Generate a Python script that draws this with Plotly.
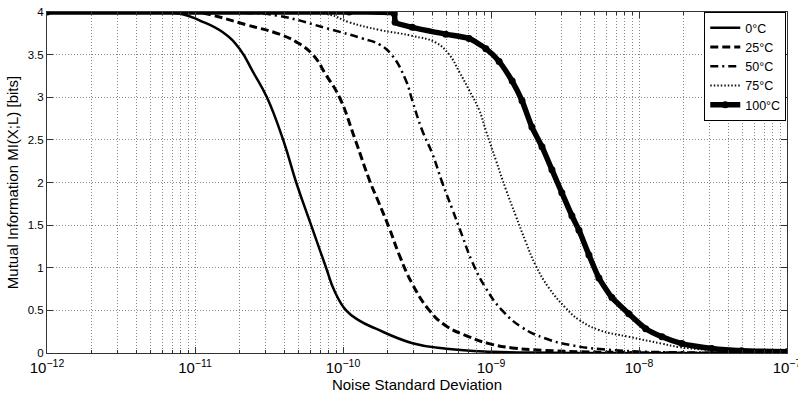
import plotly.graph_objects as go

# Mutual information vs. noise standard deviation, one series per temperature
noise_0c = [1e-12, 5.0e-12, 8.0e-12, 1.08e-11, 1.55e-11, 2.0e-11, 2.46e-11, 3.06e-11,
            3.96e-11, 4.83e-11, 6.09e-11, 7.69e-11, 8.75e-11, 1.05e-10, 1.29e-10,
            1.67e-10, 2.95e-10, 5.0e-10, 1.0e-9, 2.5e-9, 1e-7]
mi_0c = [4.0, 4.0, 3.98, 3.90, 3.76, 3.57, 3.30, 3.00,
         2.49, 2.00, 1.50, 1.00, 0.73, 0.50, 0.38,
         0.285, 0.115, 0.05, 0.015, 0.003, 0.0]

noise_25c = [1e-12, 1.0e-11, 1.26e-11, 2.22e-11, 3.72e-11, 4.83e-11, 6.25e-11, 7.69e-11,
             9.46e-11, 1.21e-10, 1.53e-10, 1.73e-10, 2.06e-10, 2.40e-10, 2.94e-10,
             3.83e-10, 4.95e-10, 7.11e-10, 9.7e-10, 1.39e-9, 2.35e-9, 5.4e-9, 1e-7]
mi_25c = [4.0, 4.0, 3.97, 3.85, 3.74, 3.65, 3.50, 3.26,
          3.00, 2.50, 2.00, 1.78, 1.46, 1.15, 0.81,
          0.50, 0.32, 0.19, 0.11, 0.06, 0.03, 0.01, 0.0]

noise_50c = [1e-12, 2.0e-11, 3.54e-11, 8.09e-11, 1.35e-10, 1.76e-10, 2.15e-10, 2.67e-10,
             2.94e-10, 3.43e-10, 4.01e-10, 4.68e-10, 5.47e-10, 6.38e-10, 7.46e-10,
             9.23e-10, 1.19e-9, 1.62e-9, 2.34e-9, 3.52e-9, 7.31e-9, 2.5e-8, 1e-7]
mi_50c = [4.0, 3.99, 3.96, 3.80, 3.69, 3.62, 3.49, 3.19,
          2.96, 2.61, 2.34, 2.00, 1.69, 1.38, 1.07,
          0.76, 0.50, 0.30, 0.17, 0.09, 0.03, 0.005, 0.0]

noise_75c = [1e-12, 5e-11, 8.09e-11, 1.10e-10, 1.76e-10, 2.94e-10, 4.25e-10, 5.22e-10,
             6.10e-10, 7.13e-10, 8.32e-10, 9.23e-10, 1.08e-9, 1.26e-9, 1.47e-9,
             1.72e-9, 2.0e-9, 2.47e-9, 3.19e-9, 3.93e-9, 5.36e-9, 8.53e-9, 1.43e-8,
             1.86e-8, 3.10e-8, 6.46e-8, 1e-7]
mi_75c = [4.0, 4.0, 3.97, 3.88, 3.79, 3.72, 3.64, 3.50,
          3.30, 3.08, 2.85, 2.61, 2.26, 1.92, 1.61,
          1.30, 1.03, 0.76, 0.53, 0.39, 0.27, 0.19, 0.11,
          0.07, 0.035, 0.01, 0.005]

noise_100c = [1e-12, 1.1e-10, 2.22e-10, 2.25e-10, 2.94e-10, 4.95e-10, 7.11e-10, 9.23e-10,
              1.135e-9, 1.39e-9, 1.62e-9, 1.89e-9, 2.21e-9, 2.58e-9, 3.01e-9,
              3.52e-9, 3.93e-9, 4.59e-9, 5.36e-9, 6.56e-9, 8.53e-9, 1.11e-8, 1.43e-8,
              1.95e-8, 3.10e-8, 4.93e-8, 1e-7]
mi_100c = [4.0, 4.0, 3.98, 3.88, 3.82, 3.74, 3.69, 3.57,
           3.42, 3.19, 2.96, 2.65, 2.42, 2.15, 1.88,
           1.61, 1.44, 1.15, 0.88, 0.65, 0.46, 0.285, 0.19,
           0.11, 0.054, 0.027, 0.015]

FONT = "Liberation Sans, Arial, sans-serif"
GRID = "#888888"
GRID_DASH = "1px,2px"
SMOOTH = 1.3

fig = go.Figure()

fig.add_trace(go.Scatter(x=noise_0c, y=mi_0c, name="0°C", mode="lines",
                         line=dict(color="black", width=2.5, shape="spline", smoothing=SMOOTH)))
fig.add_trace(go.Scatter(x=noise_25c, y=mi_25c, name="25°C", mode="lines",
                         line=dict(color="black", width=3, dash="8px,4px",
                                   shape="spline", smoothing=SMOOTH)))
fig.add_trace(go.Scatter(x=noise_50c, y=mi_50c, name="50°C", mode="lines",
                         line=dict(color="black", width=2.5, dash="8px,4px,2px,4px",
                                   shape="spline", smoothing=SMOOTH)))
fig.add_trace(go.Scatter(x=noise_75c, y=mi_75c, name="75°C", mode="lines",
                         line=dict(color="#111111", width=2, dash="1.5px,2px",
                                   shape="spline", smoothing=SMOOTH)))
fig.add_trace(go.Scatter(x=noise_100c, y=mi_100c, name="100°C", mode="lines+markers",
                         line=dict(color="black", width=5.5, shape="spline", smoothing=0.5),
                         marker=dict(color="black", size=7, symbol="circle")))

fig.update_layout(
    width=798, height=395,
    margin=dict(l=47, r=11, t=6, b=42),
    paper_bgcolor="white", plot_bgcolor="white",
    font=dict(family=FONT, size=12, color="black"),
    showlegend=True,
    legend=dict(x=0.999, y=1.0, xanchor="right", yanchor="top",
                bgcolor="white", bordercolor="black", borderwidth=1,
                font=dict(family=FONT, size=12.5, color="black"),
                itemwidth=30, tracegroupgap=0),
)

fig.update_xaxes(
    type="log", range=[-12, -7], dtick=1, exponentformat="power",
    showgrid=True, gridcolor=GRID, griddash=GRID_DASH, gridwidth=1,
    minor=dict(dtick="D1", showgrid=True, gridcolor=GRID, griddash=GRID_DASH,
               gridwidth=1, ticks="inside", ticklen=3, tickcolor="#333333"),
    ticks="inside", ticklen=6, tickcolor="#333333",
    showline=True, linecolor="#333333", linewidth=1, mirror="allticks",
    zeroline=False, ticklabelstandoff=2, ticklabeloverflow="allow",
    automargin=False,
    tickfont=dict(family=FONT, size=12, color="black"),
    title=dict(text="Noise Standard Deviation", standoff=2,
               font=dict(family=FONT, size=15, color="black")),
)

fig.update_yaxes(
    range=[0, 4], dtick=0.5,
    showgrid=True, gridcolor=GRID, griddash=GRID_DASH, gridwidth=1,
    ticks="inside", ticklen=6, tickcolor="#333333",
    showline=True, linecolor="#333333", linewidth=1, mirror="allticks",
    zeroline=False,
    tickfont=dict(family=FONT, size=11.5, color="black"),
    title=dict(text="Mutual Information MI(X;L) [bits]", standoff=5,
               font=dict(family=FONT, size=15, color="black")),
)

fig.write_html("out.html")
